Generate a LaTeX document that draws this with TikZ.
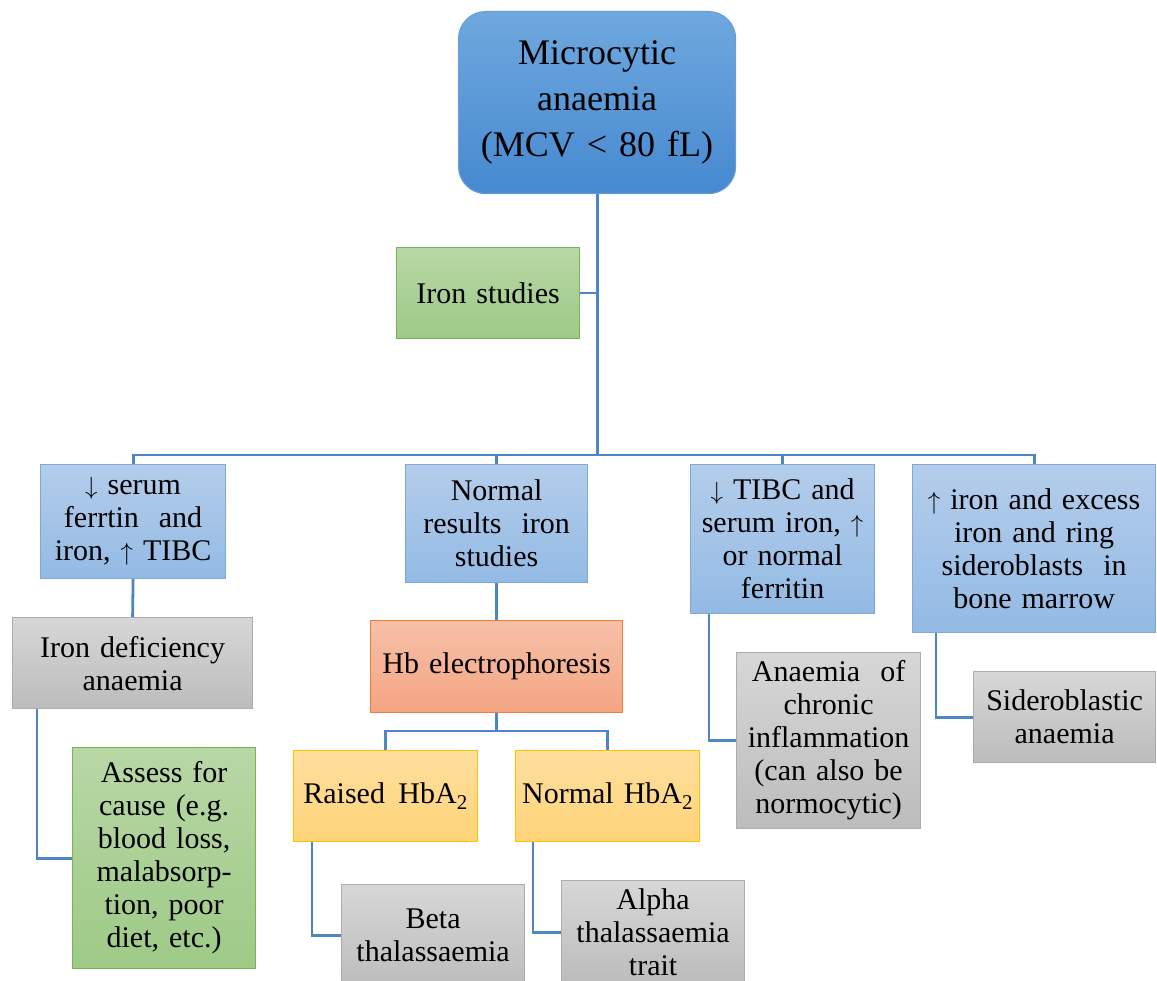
\documentclass[tikz,border=0pt]{standalone}
\usepackage{fontspec}
\setmainfont{Liberation Serif}
\definecolor{blueT}{RGB}{180,205,235}
\definecolor{blueB}{RGB}{147,186,228}
\definecolor{blueD}{RGB}{124,168,218}
\definecolor{greenT}{RGB}{184,215,166}
\definecolor{greenB}{RGB}{158,202,134}
\definecolor{greenD}{RGB}{122,178,84}
\definecolor{grayT}{RGB}{215,215,215}
\definecolor{grayB}{RGB}{188,188,188}
\definecolor{grayD}{RGB}{172,172,172}
\definecolor{orangeT}{RGB}{246,192,168}
\definecolor{orangeB}{RGB}{244,165,130}
\definecolor{orangeD}{RGB}{237,128,52}
\definecolor{yellowT}{RGB}{255,223,158}
\definecolor{yellowB}{RGB}{255,212,120}
\definecolor{yellowD}{RGB}{255,192,0}
\definecolor{topT}{RGB}{111,168,222}
\definecolor{topB}{RGB}{70,137,208}
\definecolor{topD}{RGB}{104,158,214}
\definecolor{connC}{RGB}{76,134,196}
\newcommand{\dnarr}{$\downarrow$}
\newcommand{\uparr}{$\uparrow$}
\begin{document}
\begin{tikzpicture}[x=1pt,y=-1pt,
  box/.style={draw, line width=1.2pt, inner sep=2pt, align=center, anchor=north west,
    font=\fontsize{30}{33}\selectfont},
  bluebox/.style={box, top color=blueT, bottom color=blueB, draw=blueD},
  greenbox/.style={box, top color=greenT, bottom color=greenB, draw=greenD},
  graybox/.style={box, top color=grayT, bottom color=grayB, draw=grayD},
  orangebox/.style={box, top color=orangeT, bottom color=orangeB, draw=orangeD},
  yellowbox/.style={box, top color=yellowT, bottom color=yellowB, draw=yellowD},
  topbox/.style={box, rounded corners=27pt, top color=topT, bottom color=topB, draw=topD,
    font=\fontsize{36}{46}\selectfont},
  conn/.style={draw=connC, line width=2.8pt}
]
\useasboundingbox (0,0) rectangle (1157,981);
\clip (0,0) rectangle (1157,981);

% nodes
\node[topbox, minimum width=277, minimum height=182, text width=270] (top) at (458,11) {Microcytic\\anaemia\\(MCV < 80 fL)};
\node[greenbox, minimum width=183, minimum height=91, text width=178] (iron) at (396,247) {Iron studies};

\node[bluebox, minimum width=185, minimum height=114, text width=180] (b1) at (40,464) {\dnarr\ serum\\ferrtin\ \ and\\iron, \uparr\ TIBC};
\node[bluebox, minimum width=182, minimum height=118, text width=177] (b2) at (405,464) {Normal\\results\ \ iron\\studies};
\node[bluebox, minimum width=184, minimum height=149, text width=180] (b3) at (690,464) {\dnarr\ TIBC and\\serum iron, \uparr\\or normal\\ferritin};
\node[bluebox, minimum width=243, minimum height=168, text width=238] (b4) at (912,464) {\uparr\ iron and excess\\iron and ring\\sideroblasts\ \ in\\bone marrow};

\node[graybox, minimum width=240, minimum height=91, text width=235] (ida) at (12,617) {Iron deficiency\\anaemia};
\node[greenbox, minimum width=183, minimum height=221, text width=178] (assess) at (72,747) {Assess for\\cause (e.g.\\blood loss,\\malabsorp-\\tion, poor\\diet, etc.)};

\node[orangebox, minimum width=252, minimum height=92, text width=247] (hb) at (370,620) {Hb electrophoresis};
\node[yellowbox, minimum width=184, minimum height=91, text width=180] (raised) at (293,750) {Raised\hspace{0.45em}HbA\textsubscript{2}};
\node[yellowbox, minimum width=183, minimum height=91, text width=180] (normal) at (515,750) {Normal HbA\textsubscript{2}};
\node[graybox, minimum width=183, minimum height=102, text width=178] (beta) at (341,884) {Beta\\thalassaemia};
\node[graybox, minimum width=183, minimum height=103, text width=178] (alpha) at (561,880) {Alpha\\thalassaemia\\trait};

\node[graybox, minimum width=183, minimum height=176, text width=180] (aci) at (736,652) {Anaemia\ \ of\\chronic\\inflammation\\(can also be\\normocytic)};
\node[graybox, minimum width=182, minimum height=91, text width=178] (sid) at (973,671) {Sideroblastic\\anaemia};

% connectors
\coordinate (bus) at (597,455);
\coordinate (hbbus) at (497,731);
\draw[conn] (top.south) -- (top.south |- bus);
\draw[conn] (iron.east) -- (iron.east -| top.south);
\draw[conn] (b1.north) -- (b1.north |- bus) -- (b4.north |- bus) -- (b4.north);
\draw[conn] (b2.north) -- (b2.north |- bus);
\draw[conn] (b3.north) -- (b3.north |- bus);

\draw[conn] (b1.south) -- (ida.north);
\draw[conn] ([xshift=25pt]ida.south west) |- (assess.west);

\draw[conn] (b2.south) -- (hb.north);
\draw[conn] (hb.south) -- (hb.south |- hbbus);
\draw[conn] (raised.north) -- (raised.north |- hbbus) -- (normal.north |- hbbus) -- (normal.north);
\draw[conn] ([xshift=19pt]raised.south west) |- (beta.west);
\draw[conn] ([xshift=18pt]normal.south west) |- (alpha.west);

\draw[conn] ([xshift=19pt]b3.south west) |- (aci.west);
\draw[conn] ([xshift=24pt]b4.south west) |- (sid.west);
\end{tikzpicture}
\end{document}
